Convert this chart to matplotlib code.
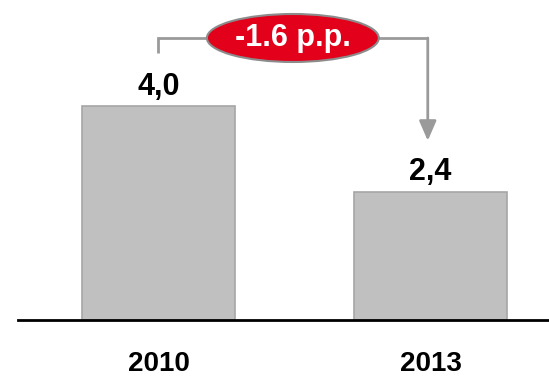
import matplotlib
matplotlib.use("Agg")
import matplotlib.pyplot as plt
from matplotlib.patches import Ellipse

years = ["2010", "2013"]
values = [4.0, 2.4]

plt.rcParams["font.family"] = ["Liberation Sans", "DejaVu Sans"]

fig = plt.figure(figsize=(5.49, 3.78), dpi=100)
ax = fig.add_axes([18 / 549, 58 / 378, 531 / 549, 320 / 378])

x = list(range(len(years)))
ax.bar(x, values, width=0.5625, color="#c0c0c0", edgecolor="#a6a6a6", linewidth=1.2, zorder=2)

ax.set_xlim(-0.5165, 1.4357)
ax.set_ylim(0, 5.98)

for s in ["top", "right", "left"]:
    ax.spines[s].set_visible(False)
ax.spines["bottom"].set_linewidth(2)
ax.spines["bottom"].set_color("black")
ax.set_yticks([])
ax.set_xticks(x)
ax.set_xticklabels(years, fontsize=20, fontweight="bold")
ax.tick_params(axis="x", length=0, pad=22)

# value labels above each bar
for xi, v in zip(x, values):
    ax.annotate(f"{v:.1f}".replace(".", ","), (xi, v), xytext=(0, 8),
                textcoords="offset points", ha="center", va="baseline",
                fontsize=22, fontweight="bold", color="black")

# change bracket between the two bars
change = values[1] - values[0]
bracket_y = 5.27
gray = "#9a9a9a"
ax.plot([x[0], x[0], 0.99], [4.99, bracket_y, bracket_y], color=gray, lw=2,
        solid_capstyle="butt", solid_joinstyle="miter", zorder=3)
ax.annotate("", xy=(0.99, 3.35), xytext=(0.99, bracket_y),
            arrowprops=dict(arrowstyle="-|>,head_length=0.6,head_width=0.26",
                            mutation_scale=20, color=gray, lw=2,
                            shrinkA=0, shrinkB=0), zorder=3)
ax.add_patch(Ellipse((0.494, bracket_y), 0.632, 0.897, facecolor="#e2001a",
                     edgecolor="#8c8c8c", lw=1.5, zorder=4))
ax.text(0.494, bracket_y, f"{change:.1f} p.p.", ha="center", va="center",
        fontsize=22, fontweight="bold", color="white", zorder=5)

fig.savefig("out.png", dpi=100)
